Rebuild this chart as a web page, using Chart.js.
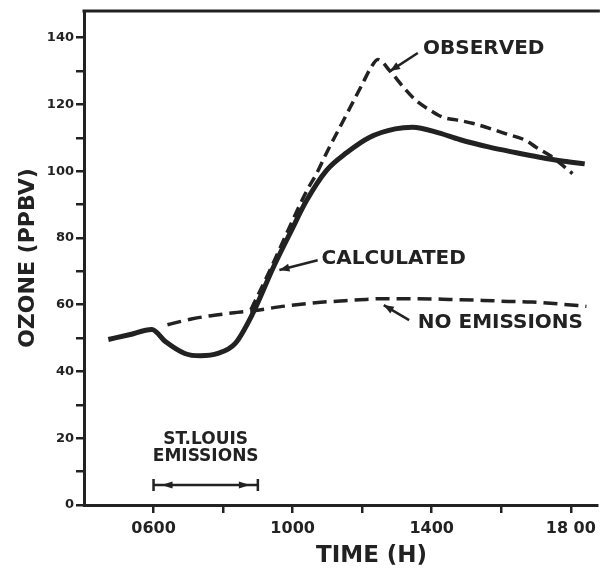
<!DOCTYPE html>
<html>
<head>
<meta charset="utf-8">
<script src="https://cdn.jsdelivr.net/npm/chart.js@4"></script>
<style>
  html, body { margin: 0; padding: 0; background: #ffffff; }
  canvas { display: block; }
</style>
</head>
<body>
<canvas id="c" width="602" height="578"></canvas>
<script>
// ---------- DATA (time in hours, ozone in ppbv) ----------
const calcTime  = [4.7, 5.3, 5.95, 6.35, 6.9, 7.35, 7.85, 8.35, 8.85, 9.45, 9.92, 10.4, 10.97, 11.56, 12.22, 12.95, 13.45, 14.2, 14.8, 15.66, 16.4, 17.1, 17.8, 18.4];
const calcOzone = [49.6, 51.0, 52.6, 48.9, 45.4, 44.7, 45.4, 48.4, 57.3, 71.3, 81.3, 91.2, 100.2, 105.6, 110.2, 112.7, 113.2, 111.5, 109.5, 107.2, 105.6, 104.2, 103.0, 102.2];

const obsTime  = [8.8, 9.4, 9.9, 10.4, 10.7, 11.0, 11.3, 11.65, 12.0, 12.25, 12.45, 12.8, 13.2, 13.56, 14.0, 14.32, 14.8, 15.2, 16.14, 16.71, 17.0, 17.4, 18.05];
const obsOzone = [58.5, 71.5, 83.0, 94.0, 99.5, 106.0, 112.0, 119.0, 126.0, 131.0, 133.5, 130.0, 125.0, 121.1, 118.0, 116.2, 115.2, 114.3, 111.2, 109.2, 107.2, 104.7, 99.3];

const noEmTime  = [6.4, 7.12, 8.07, 8.93, 9.79, 10.65, 11.5, 12.6, 13.5, 14.5, 15.46, 16.2, 16.89, 17.7, 18.45];
const noEmOzone = [54.0, 55.8, 57.3, 58.3, 59.6, 60.6, 61.2, 61.8, 61.8, 61.6, 61.3, 61.0, 60.8, 60.2, 59.5];

const xTickLabels = { 6: '0600', 10: '1000', 14: '1400', 18: '18 00' };
const yLabelStep = 20;

const seriesNames = ['CALCULATED', 'OBSERVED', 'NO EMISSIONS'];
const emissionLabel = ['ST.LOUIS', 'EMISSIONS'];
const emissionPeriod = [6, 9];

// ---------- helpers ----------
const INK = '#222222';
const pts = (xs, ys) => xs.map((x, i) => ({ x: x, y: ys[i] }));

// annotations (positions in data units)
const annotations = [
  { text: seriesNames[1], tx: 13.75, ty: 136.8, from: [13.6, 135.4], to: [12.8, 130.0] },
  { text: seriesNames[0], tx: 10.83, ty: 73.8,  from: [10.72, 73.3], to: [9.62, 70.4] },
  { text: seriesNames[2], tx: 13.6,  ty: 54.6,  from: [13.35, 55.4], to: [12.62, 59.9] }
];

function arrowHead(ctx, x1, y1, x2, y2, len, half) {
  const a = Math.atan2(y2 - y1, x2 - x1);
  ctx.beginPath();
  ctx.moveTo(x2, y2);
  ctx.lineTo(x2 - len * Math.cos(a) + half * Math.sin(a), y2 - len * Math.sin(a) - half * Math.cos(a));
  ctx.lineTo(x2 - len * Math.cos(a) - half * Math.sin(a), y2 - len * Math.sin(a) + half * Math.cos(a));
  ctx.closePath();
  ctx.fill();
}

const annotPlugin = {
  id: 'annot',
  afterDraw(chart) {
    const { ctx, chartArea } = chart;
    const x = chart.scales.x, y = chart.scales.y;
    ctx.save();
    ctx.strokeStyle = INK;
    ctx.fillStyle = INK;
    // top frame line
    ctx.lineWidth = 3;
    ctx.beginPath();
    ctx.moveTo(chartArea.left - 1.5, chartArea.top);
    ctx.lineTo(chartArea.right + 3, chartArea.top);
    ctx.stroke();

    // series labels with arrows
    ctx.font = 'bold 20px "DejaVu Sans"';
    ctx.textBaseline = 'middle';
    ctx.textAlign = 'left';
    annotations.forEach(a => {
      ctx.fillText(a.text, x.getPixelForValue(a.tx), y.getPixelForValue(a.ty));
      const x1 = x.getPixelForValue(a.from[0]), y1 = y.getPixelForValue(a.from[1]);
      const x2 = x.getPixelForValue(a.to[0]),   y2 = y.getPixelForValue(a.to[1]);
      ctx.lineWidth = 2.5;
      ctx.beginPath(); ctx.moveTo(x1, y1); ctx.lineTo(x2, y2); ctx.stroke();
      arrowHead(ctx, x1, y1, x2, y2, 10, 4);
    });

    // St. Louis emissions period
    const ex0 = x.getPixelForValue(emissionPeriod[0]);
    const ex1 = x.getPixelForValue(emissionPeriod[1]);
    const ey = y.getPixelForValue(6);
    ctx.font = 'bold 17px "DejaVu Sans"';
    ctx.textAlign = 'center';
    const cx = (ex0 + ex1) / 2;
    ctx.fillText(emissionLabel[0], cx, y.getPixelForValue(19.6));
    ctx.fillText(emissionLabel[1], cx, y.getPixelForValue(14.4));
    ctx.lineWidth = 2.5;
    ctx.beginPath(); ctx.moveTo(ex0, ey); ctx.lineTo(ex1, ey); ctx.stroke();
    ctx.beginPath();
    ctx.moveTo(ex0, ey - 6); ctx.lineTo(ex0, ey + 6);
    ctx.moveTo(ex1, ey - 6); ctx.lineTo(ex1, ey + 6);
    ctx.stroke();
    arrowHead(ctx, ex0 + 20, ey, ex0 + 8, ey, 11, 3.5);
    arrowHead(ctx, ex1 - 20, ey, ex1 - 8, ey, 11, 3.5);

    // x-axis title
    const xt = chart.options.scales.x.title;
    ctx.font = 'bold 23px "DejaVu Sans"';
    ctx.textAlign = 'center';
    ctx.fillText(xt.text, x.getPixelForValue(12.27), 556);
    ctx.restore();
  }
};

new Chart(document.getElementById('c'), {
  type: 'line',
  data: {
    datasets: [
      {
        label: seriesNames[0],
        data: pts(calcTime, calcOzone),
        borderColor: INK,
        borderWidth: 5,
        pointRadius: 0,
        fill: false,
        cubicInterpolationMode: 'monotone'
      },
      {
        label: seriesNames[1],
        data: pts(obsTime, obsOzone),
        borderColor: INK,
        borderWidth: 3.5,
        borderDash: [11, 6],
        pointRadius: 0,
        fill: false,
        cubicInterpolationMode: 'monotone'
      },
      {
        label: seriesNames[2],
        data: pts(noEmTime, noEmOzone),
        borderColor: INK,
        borderWidth: 3.5,
        borderDash: [14, 7],
        pointRadius: 0,
        fill: false,
        cubicInterpolationMode: 'monotone'
      }
    ]
  },
  options: {
    responsive: false,
    animation: false,
    devicePixelRatio: 1,
    layout: { padding: { top: 11, right: 3, left: 0, bottom: 0 } },
    plugins: { legend: { display: false }, tooltip: { enabled: false } },
    scales: {
      x: {
        type: 'linear',
        min: 4,
        max: 18.75,
        afterBuildTicks: s => { s.ticks = s.ticks.filter(t => t.value >= 6 && t.value <= 18); },
        afterFit: s => { s.height = 73; },
        ticks: {
          stepSize: 2,
          includeBounds: false,
          autoSkip: false,
          maxRotation: 0,
          padding: 6,
          color: INK,
          font: { family: 'DejaVu Sans', weight: 'bold', size: 16 },
          callback: v => xTickLabels[v] || ''
        },
        grid: { drawOnChartArea: false, drawTicks: true, tickLength: 8, lineWidth: 2.5, color: INK },
        border: { display: true, color: INK, width: 3 },
        title: { display: false, text: 'TIME (H)' }
      },
      y: {
        min: 0,
        max: 148,
        afterFit: s => { s.width = 84; },
        ticks: {
          stepSize: 10,
          includeBounds: false,
          padding: 2,
          color: INK,
          font: { family: 'DejaVu Sans', weight: 'bold', size: 13 },
          callback: v => (v % yLabelStep === 0 ? String(v) : '')
        },
        grid: { drawOnChartArea: false, drawTicks: true, tickLength: 8, lineWidth: 2.5, color: INK },
        border: { display: true, color: INK, width: 3 },
        title: {
          display: true,
          text: 'OZONE (PPBV)',
          color: INK,
          font: { family: 'DejaVu Sans', weight: 'bold', size: 22 },
          padding: { top: 15, bottom: 0 }
        }
      }
    }
  },
  plugins: [annotPlugin]
});
</script>
</body>
</html>
